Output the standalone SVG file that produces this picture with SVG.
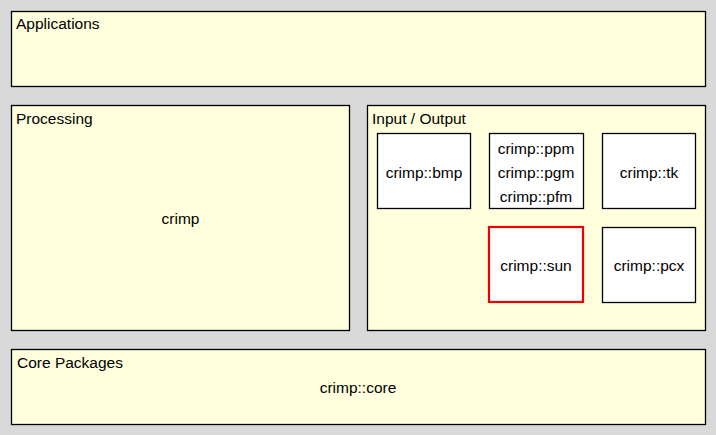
<svg xmlns="http://www.w3.org/2000/svg" width="716" height="435" viewBox="0 0 716 435">
<style>
.bg{fill:#d9d9d9}
.layer{fill:#ffffdd;stroke:#000;stroke-width:1.3}
.pkg{fill:#fff;stroke:#000;stroke-width:1.3}
.hl{fill:#fff;stroke:#ee0000;stroke-width:2.2}
text{font-family:"Liberation Sans",Arial,sans-serif;font-size:15.5px;fill:#000}
.c{text-anchor:middle}
</style>
<rect class="bg" x="0" y="0" width="716" height="435"/>
<g id="applications">
<rect class="layer" x="11.5" y="11.5" width="694" height="75"/>
<text x="16" y="29">Applications</text>
</g>
<g id="processing">
<rect class="layer" x="11.5" y="105.5" width="338" height="225"/>
<text x="16" y="124">Processing</text>
<text class="c" x="180.5" y="224">crimp</text>
</g>
<g id="io">
<rect class="layer" x="367.5" y="105.5" width="338" height="225"/>
<text x="372" y="124">Input / Output</text>
</g>
<g id="bmp">
<rect class="pkg" x="377.5" y="133.5" width="93" height="75"/>
<text class="c" x="424" y="178">crimp::bmp</text>
</g>
<g id="ppm">
<rect class="pkg" x="489.5" y="133.5" width="94" height="75"/>
<text class="c" x="536" y="154">crimp::ppm</text>
<text class="c" x="536" y="178">crimp::pgm</text>
<text class="c" x="536" y="202">crimp::pfm</text>
</g>
<g id="tk">
<rect class="pkg" x="602.5" y="133.5" width="93" height="75"/>
<text class="c" x="649" y="178">crimp::tk</text>
</g>
<g id="sun">
<rect class="hl" x="489" y="227" width="94" height="75"/>
<text class="c" x="536" y="271">crimp::sun</text>
</g>
<g id="pcx">
<rect class="pkg" x="602.5" y="227.5" width="93" height="75"/>
<text class="c" x="649" y="271">crimp::pcx</text>
</g>
<g id="core">
<rect class="layer" x="11.5" y="349.5" width="694" height="75"/>
<text x="17" y="368">Core Packages</text>
<text class="c" x="358" y="393">crimp::core</text>
</g>
<g id="connectors"></g>
</svg>
